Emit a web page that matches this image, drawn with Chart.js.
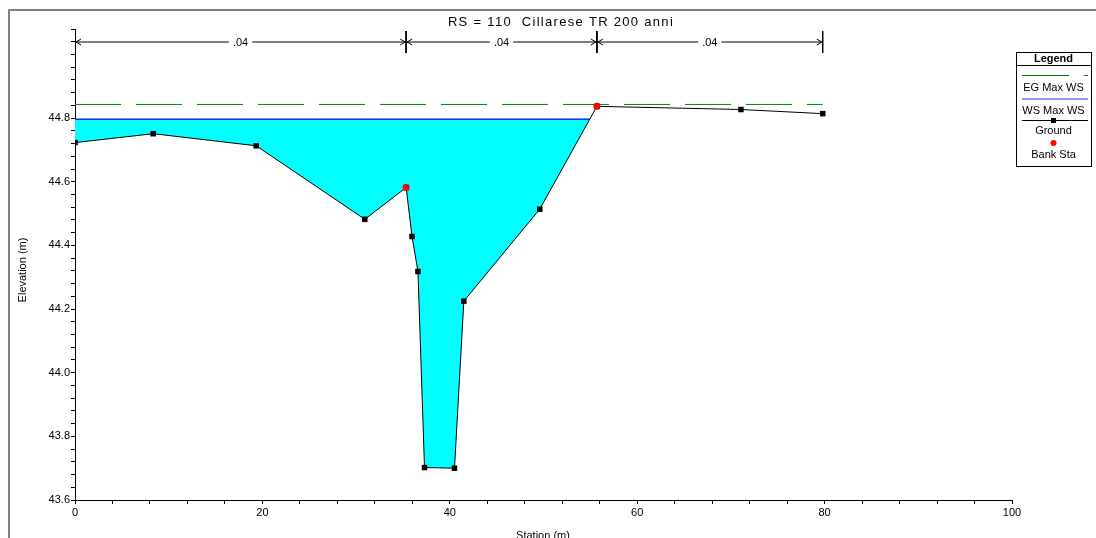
<!DOCTYPE html>
<html>
<head>
<meta charset="utf-8">
<script src="https://cdn.jsdelivr.net/npm/chart.js@4/dist/chart.umd.min.js"></script>
<style>
  html, body { margin: 0; padding: 0; background: #fff; }
</style>
</head>
<body>
<canvas id="myChart" width="1096" height="538"></canvas>
<script>
// cross section data
var station   = [0, 8.35, 19.34, 30.93, 35.34, 35.97, 36.6, 37.3, 40.5, 41.5, 49.6, 55.7, 71.07, 79.8];
var elevation = [44.723, 44.751, 44.713, 44.482, 44.582, 44.428, 44.318, 43.702, 43.70, 44.225, 44.514, 44.837, 44.827, 44.814];
var bankStations   = [35.34, 55.7];
var bankElevations = [44.582, 44.837];
var wsElevation = 44.797;
var egElevation = 44.843;
var mannValues = [".04", ".04", ".04"];
var mannBreaks = [0, 35.34, 55.7, 79.8];
var titleText = "RS = 110  Cillarese TR 200 anni";

var FONT = "'Liberation Sans', Arial, sans-serif";

var ground = station.map(function (s, i) { return {x: s, y: elevation[i]}; });
var banks = bankStations.map(function (s, i) { return {x: s, y: bankElevations[i]}; });

// where the water surface meets the right bank
var wsEnd = station[station.length - 1];
for (var i = 1; i < station.length; i++) {
  if (elevation[i - 1] < wsElevation && elevation[i] >= wsElevation && station[i] > bankStations[0]) {
    var t = (wsElevation - elevation[i - 1]) / (elevation[i] - elevation[i - 1]);
    wsEnd = station[i - 1] + t * (station[i] - station[i - 1]);
    break;
  }
}
var wsLine = [{x: station[0], y: wsElevation}, {x: wsEnd, y: wsElevation}];
var egLine = [{x: station[0], y: egElevation}, {x: station[station.length - 1], y: egElevation}];

var extras = {
  id: 'extras',
  afterDraw: function (chart) {
    var ctx = chart.ctx;
    var xs = chart.scales.x;
    ctx.save();

    // outer frame
    ctx.strokeStyle = '#808080';
    ctx.lineWidth = 2;
    ctx.beginPath();
    ctx.moveTo(1096, 10); ctx.lineTo(9, 10); ctx.lineTo(9, 538);
    ctx.stroke();

    // title (spaced out like the original)
    ctx.fillStyle = '#000';
    ctx.font = '13px ' + FONT;
    ctx.textAlign = 'left';
    ctx.textBaseline = 'middle';
    ctx.letterSpacing = '1.3px';
    var tw = ctx.measureText(titleText).width;
    ctx.fillText(titleText, 561 - tw / 2, 22);
    ctx.letterSpacing = '0px';
    ctx.textAlign = 'center';

    // axis titles
    ctx.font = '11px ' + FONT;
    ctx.fillText('Station (m)', 543, 536);
    ctx.save();
    ctx.translate(23, 270);
    ctx.rotate(-Math.PI / 2);
    ctx.fillText('Elevation (m)', 0, 0);
    ctx.restore();

    // Manning's n bar
    var yb = 42;
    ctx.strokeStyle = '#000';
    ctx.lineWidth = 1;
    for (var k = 0; k < mannValues.length; k++) {
      var x0 = xs.getPixelForValue(mannBreaks[k]);
      var x1 = xs.getPixelForValue(mannBreaks[k + 1]);
      ctx.beginPath();
      ctx.moveTo(x0, yb); ctx.lineTo(x1, yb);
      ctx.moveTo(x0 + 6, yb - 3); ctx.lineTo(x0 + 1, yb); ctx.lineTo(x0 + 6, yb + 3);
      ctx.moveTo(x1 - 6, yb - 3); ctx.lineTo(x1 - 1, yb); ctx.lineTo(x1 - 6, yb + 3);
      ctx.stroke();
      ctx.lineWidth = 1.5;
      if (k > 0) {
        ctx.beginPath(); ctx.moveTo(x0, 31); ctx.lineTo(x0, 53); ctx.stroke();
      }
      ctx.beginPath(); ctx.moveTo(x1, 31); ctx.lineTo(x1, 53); ctx.stroke();
      ctx.lineWidth = 1;
      var cx = (x0 + x1) / 2;
      ctx.font = '11px ' + FONT;
      var w = ctx.measureText(mannValues[k]).width;
      ctx.fillStyle = '#fff';
      ctx.fillRect(cx - w / 2 - 4, yb - 6, w + 8, 12);
      ctx.fillStyle = '#000';
      ctx.fillText(mannValues[k], cx, yb + 1);
    }

    // legend box
    var lx = 1016, ly = 52, lw = 75, lh = 114, mid = lx + lw / 2;
    ctx.fillStyle = '#fff';
    ctx.fillRect(lx, ly, lw, lh);
    ctx.strokeStyle = '#000';
    ctx.lineWidth = 1;
    ctx.strokeRect(lx + 0.5, ly + 0.5, lw, lh);
    ctx.beginPath(); ctx.moveTo(lx, 65.5); ctx.lineTo(lx + lw, 65.5); ctx.stroke();
    ctx.fillStyle = '#000';
    ctx.font = 'bold 11px ' + FONT;
    ctx.fillText('Legend', mid, 59);
    ctx.font = '11px ' + FONT;

    ctx.strokeStyle = '#008000';
    ctx.setLineDash([47, 15]);
    ctx.beginPath(); ctx.moveTo(lx + 6, 75.5); ctx.lineTo(lx + lw - 3, 75.5); ctx.stroke();
    ctx.setLineDash([]);
    ctx.fillText('EG Max WS', mid, 88);

    ctx.strokeStyle = '#6f6fff';
    ctx.lineWidth = 1.5;
    ctx.beginPath(); ctx.moveTo(lx + 6, 99); ctx.lineTo(lx + lw - 3, 99); ctx.stroke();
    ctx.fillText('WS Max WS', mid, 111);

    ctx.strokeStyle = '#000';
    ctx.lineWidth = 1;
    ctx.beginPath(); ctx.moveTo(lx + 6, 120.5); ctx.lineTo(lx + lw - 3, 120.5); ctx.stroke();
    ctx.fillRect(mid - 2.5, 118, 5, 5);
    ctx.fillText('Ground', mid, 131);

    ctx.fillStyle = '#ff0000';
    ctx.beginPath(); ctx.arc(mid, 143, 3, 0, Math.PI * 2); ctx.fill();
    ctx.fillStyle = '#000';
    ctx.fillText('Bank Sta', mid, 155);

    ctx.restore();
  }
};

new Chart("myChart", {
  type: "line",
  data: {
    datasets: [{
      label: "Bank Sta",
      data: banks,
      showLine: false,
      pointStyle: 'circle',
      pointRadius: 3.5,
      pointBackgroundColor: '#ff0000',
      pointBorderWidth: 0
    }, {
      label: "Ground",
      data: ground,
      borderColor: '#000',
      borderWidth: 1,
      pointStyle: 'rect',
      pointRadius: 3.9,
      pointBackgroundColor: '#000',
      pointBorderWidth: 0,
      fill: false
    }, {
      label: "WS Max WS",
      data: wsLine,
      borderColor: '#0000e0',
      borderWidth: 1.2,
      pointRadius: 0,
      backgroundColor: '#00ffff',
      fill: {target: 1}
    }, {
      label: "EG Max WS",
      data: egLine,
      borderColor: '#008000',
      borderWidth: 1,
      borderDash: [46, 15],
      pointRadius: 0,
      fill: false
    }]
  },
  options: {
    responsive: false,
    animation: false,
    devicePixelRatio: 1,
    layout: { padding: { left: 0, top: 29, right: 84, bottom: 0 } },
    plugins: {
      legend: { display: false },
      tooltip: { enabled: false }
    },
    scales: {
      x: {
        type: 'linear',
        min: 0,
        max: 100,
        afterFit: function (s) { s.height = 38; },
        border: { display: true, color: '#000', width: 1 },
        grid: { drawOnChartArea: false, drawTicks: true, tickLength: 4, tickColor: '#000' },
        ticks: {
          stepSize: 4,
          autoSkip: false,
          maxRotation: 0,
          padding: 2,
          color: '#000',
          font: { family: FONT, size: 11 },
          callback: function (v) { return (Math.abs(v % 20) < 1e-6) ? String(v) : ''; }
        }
      },
      y: {
        type: 'linear',
        min: 43.6,
        max: 45.08,
        afterFit: function (s) { s.width = 75; },
        border: { display: true, color: '#000', width: 1 },
        grid: { drawOnChartArea: false, drawTicks: true, tickLength: 4, tickColor: '#000' },
        ticks: {
          stepSize: 0.04,
          autoSkip: false,
          padding: 1,
          color: '#000',
          font: { family: FONT, size: 11 },
          callback: function (v) {
            var r = Math.round(v * 5);
            if (Math.abs(v * 5 - r) > 1e-6 || v > 44.81) return '';
            return (r / 5).toFixed(1);
          }
        }
      }
    }
  },
  plugins: [extras]
});
</script>
</body>
</html>
